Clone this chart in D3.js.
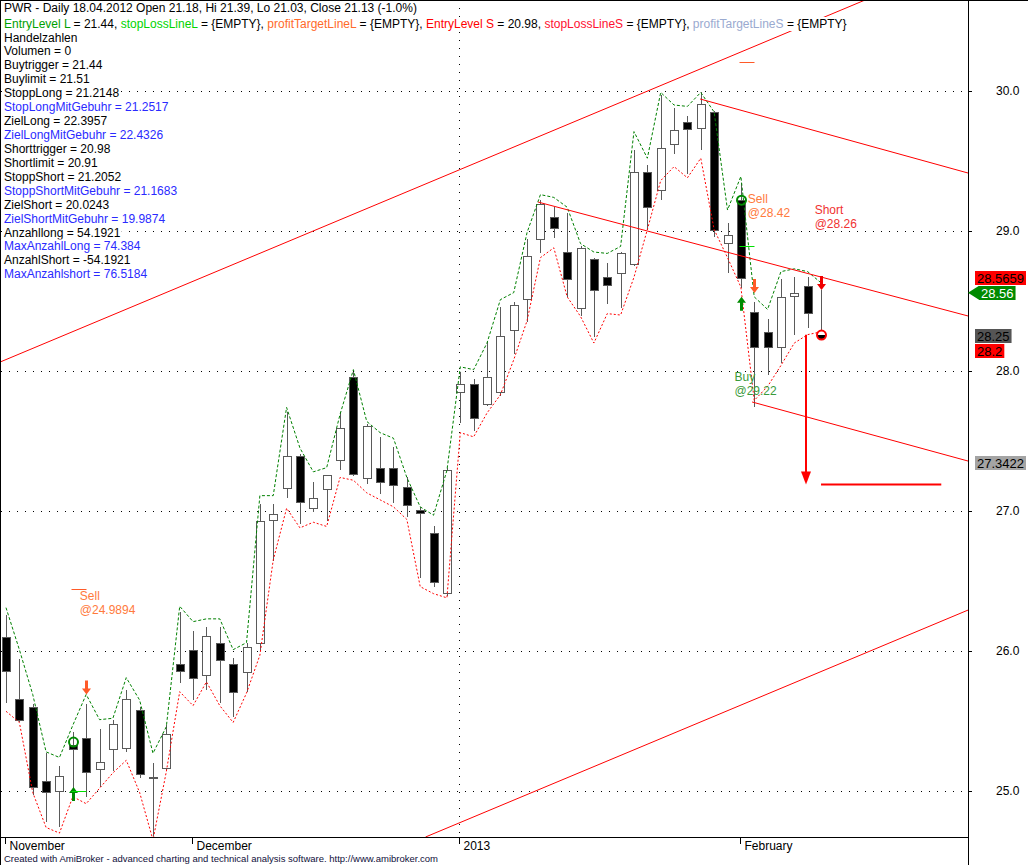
<!DOCTYPE html>
<html>
<head>
<meta charset="utf-8">
<title>PWR - Daily</title>
<script src="https://cdn.jsdelivr.net/npm/d3@7"></script>
<style>
  body { margin: 0; background: #fff; }
  svg { display: block; font-family: "Liberation Sans", Arial, sans-serif; }
  text { white-space: pre; }
</style>
</head>
<body>
<div id="chart"></div>
<script>
// trading days shown (Nov 12 2012 .. Feb 11 2013)
const dates = [
  "2012-11-12","2012-11-13","2012-11-14","2012-11-15","2012-11-16","2012-11-19","2012-11-20","2012-11-21","2012-11-23","2012-11-26",
  "2012-11-27","2012-11-28","2012-11-29","2012-11-30","2012-12-03","2012-12-04","2012-12-05","2012-12-06","2012-12-07","2012-12-10",
  "2012-12-11","2012-12-12","2012-12-13","2012-12-14","2012-12-17","2012-12-18","2012-12-19","2012-12-20","2012-12-21","2012-12-24",
  "2012-12-26","2012-12-27","2012-12-28","2012-12-31","2013-01-02","2013-01-03","2013-01-04","2013-01-07","2013-01-08","2013-01-09",
  "2013-01-10","2013-01-11","2013-01-14","2013-01-15","2013-01-16","2013-01-17","2013-01-18","2013-01-22","2013-01-23","2013-01-24",
  "2013-01-25","2013-01-28","2013-01-29","2013-01-30","2013-01-31","2013-02-01","2013-02-04","2013-02-05","2013-02-06","2013-02-07",
  "2013-02-08","2013-02-11"
];

const open = [
  26.10, 25.66, 25.60, 25.07, 25.00, 25.33, 25.38, 25.16, 25.30, 25.31,
  25.58, 25.10, 25.17, 25.91, 26.01, 25.83, 26.06, 25.91, 25.85, 26.06,
  26.94, 27.16, 27.39, 27.02, 27.16, 27.36, 27.96, 27.24, 27.31, 27.31,
  27.17, 27.01, 26.84, 26.41, 27.85, 27.91, 27.77, 27.85, 28.29, 28.51,
  28.94, 29.10, 28.85, 28.45, 28.80, 28.67, 28.70, 28.76, 29.42, 29.29,
  29.62, 29.78, 29.74, 29.85, 28.91, 29.22, 28.42, 28.28, 28.17, 28.54,
  28.61, 28.26
];
const high = [
  26.26, 25.94, 25.62, 25.27, 25.18, 25.42, 25.62, 25.44, 25.51, 25.72,
  25.60, 25.20, 25.47, 26.28, 26.14, 26.17, 26.17, 25.95, 26.06, 27.05,
  27.05, 27.71, 27.41, 27.21, 27.26, 27.71, 27.99, 27.62, 27.53, 27.46,
  27.24, 27.03, 26.89, 27.31, 27.99, 27.94, 28.21, 28.46, 28.49, 28.94,
  29.22, 29.17, 29.13, 28.89, 28.81, 28.77, 28.85, 29.58, 29.47, 29.97,
  29.88, 29.82, 29.99, 29.86, 29.06, 29.34, 28.49, 28.37, 28.66, 28.67,
  28.67, 28.58
];
const low = [
  25.63, 25.49, 24.97, 24.78, 24.74, 24.99, 24.96, 25.03, 25.14, 25.28,
  25.09, 24.68, 25.14, 25.77, 25.65, 25.72, 25.63, 25.53, 25.71, 26.01,
  26.64, 27.09, 26.91, 26.99, 26.93, 27.29, 27.25, 27.19, 27.12, 27.06,
  26.96, 26.52, 26.46, 26.39, 27.63, 27.57, 27.75, 27.82, 28.12, 28.35,
  28.84, 28.95, 28.53, 28.39, 28.24, 28.48, 28.45, 28.75, 29.01, 29.22,
  29.55, 29.41, 29.58, 28.96, 28.70, 28.59, 27.74, 27.97, 28.06, 28.26,
  28.31, 28.24
];
const close = [
  25.86, 25.51, 25.03, 24.99, 25.11, 25.30, 25.14, 25.21, 25.48, 25.66,
  25.12, 25.10, 25.41, 25.86, 25.81, 26.11, 25.94, 25.71, 26.03, 26.93,
  26.98, 27.39, 27.06, 27.09, 27.26, 27.59, 27.27, 27.61, 27.21, 27.19,
  27.04, 26.99, 26.49, 27.29, 27.91, 27.67, 27.96, 28.25, 28.47, 28.82,
  29.19, 29.02, 28.66, 28.88, 28.58, 28.61, 28.84, 29.42, 29.17, 29.59,
  29.72, 29.73, 29.91, 29.01, 28.97, 28.66, 28.17, 28.17, 28.53, 28.56,
  28.42, 28.25
];

// green dashed band above the highs, red dotted band below the lows
const upperBand = [
  26.31, 26.01, 25.69, 25.28, 25.24, 25.47, 25.69, 25.51, 25.52, 25.81,
  25.65, 25.27, 25.46, 26.32, 26.21, 26.23, 26.23, 26.01, 26.06, 27.11,
  27.11, 27.74, 27.45, 27.28, 27.31, 27.69, 28.01, 27.64, 27.56, 27.52,
  27.24, 27.03, 26.97, 27.29, 28.03, 28.01, 28.20, 28.51, 28.56, 28.99,
  29.26, 29.24, 29.17, 28.91, 28.85, 28.84, 28.89, 29.71, 29.52, 29.99,
  29.90, 29.89, 29.99, 29.85, 29.15, 29.39, 28.53, 28.44, 28.71, 28.73,
  28.71, 28.63
];
const lowerBand = [
  25.57, 25.49, 24.99, 24.74, 24.70, 24.96, 24.91, 25.02, 25.13, 25.22,
  24.99, 24.65, 25.14, 25.71, 25.61, 25.78, 25.61, 25.49, 25.70, 25.97,
  26.65, 27.02, 26.88, 26.92, 26.89, 27.24, 27.22, 27.13, 27.08, 27.03,
  26.94, 26.46, 26.41, 26.38, 27.56, 27.53, 27.70, 27.83, 28.08, 28.36,
  28.81, 28.88, 28.53, 28.39, 28.20, 28.41, 28.40, 28.67, 29.01, 29.36,
  29.46, 29.38, 29.52, 29.01, 28.81, 28.60, 27.79, 27.89, 28.04, 28.20,
  28.26, 28.28
];

const priceTicks = [25, 26, 27, 28, 29, 30];

// hand drawn trend lines: [bar, price] -> [bar, price]
const trendStart = [[-0.45, 28.064], [31.40, 24.672], [51.95, 29.943], [39.82, 29.207], [55.84, 27.779]];
const trendEnd   = [[64.30, 30.650], [72.01, 26.293], [72.01, 29.414], [72.01, 28.393], [72.01, 27.357]];

// projected target
const targetFrom = [59.85, 28.26];
const targetTo = [59.85, 27.19];
const targetLineBars = [61, 70];
const targetLinePrice = 27.19;

// signal markers
const buyArrowBars = [5, 55], buyArrowTips = [25.03, 28.53];
const sellArrowBars = [6, 56], sellArrowTips = [25.69, 28.557];
const shortArrowBars = [61], shortArrowTips = [28.579];
const entryCircleBars = [5, 55], entryCircleLevels = [25.35, 29.22];
const exitCircleBars = [61], exitCircleLevels = [28.257];
const stopMarkBars = [5, 55], stopMarkLevels = [25.0, 28.89];
const targetMarkBars = [5, 55], targetMarkLevels = [26.44, 30.21];

// signal texts
const signalBars = [5, 55, 60, 54];
const signalNames = ["Sell", "Sell", "Short", "Buy"];
const signalPrices = ["@24.9894", "@28.42", "@28.26", "@29.22"];
const signalLevels = [26.39, 29.23, 29.15, 27.96];
const signalColors = ["#ff7a3c", "#ff7a3c", "#f03232", "#3a9a3a"];

// price labels on the right axis (placement priority order)
const axisLabelValues = [28.56, 28.25, 28.5659, 28.2, 27.3422];
const axisLabelFills = ["#008a00", "#555555", "#ff0000", "#ff0000", "#a4a4a4"];
const axisLabelInk = ["#ffffff", "#000000", "#000000", "#000000", "#000000"];

// title / interpretation text
const titleText = "PWR - Daily 18.04.2012 Open 21.18, Hi 21.39, Lo 21.03, Close 21.13 (-1.0%)";
const levelParts = ["EntryLevel L", " = 21.44, ", "stopLossLineL", " = {EMPTY}, ", "profitTargetLineL", " = {EMPTY}, ",
                    "EntryLevel S", " = 20.98, ", "stopLossLineS", " = {EMPTY}, ", "profitTargetLineS", " = {EMPTY}"];
const levelColors = ["#00a000", "#000", "#00d400", "#000", "#ff6a2a", "#000",
                     "#ff0000", "#000", "#ff1030", "#000", "#9aaad0", "#000"];
const statLines = [
  "Handelzahlen", "Volumen = 0", "Buytrigger = 21.44", "Buylimit = 21.51", "StoppLong = 21.2148",
  "StopLongMitGebuhr = 21.2517", "ZielLong = 22.3957", "ZielLongMitGebuhr = 22.4326", "Shorttrigger = 20.98",
  "Shortlimit = 20.91", "StoppShort = 21.2052", "StoppShortMitGebuhr = 21.1683", "ZielShort = 20.0243",
  "ZielShortMitGebuhr = 19.9874", "Anzahllong = 54.1921", "MaxAnzahlLong = 74.384", "AnzahlShort = -54.1921",
  "MaxAnzahlshort = 76.5184"
];
const statColors = ["#000", "#000", "#000", "#000", "#000", "#2a2aff", "#000", "#2a2aff", "#000",
                    "#000", "#000", "#2a2aff", "#000", "#2a2aff", "#000", "#2a2aff", "#000", "#2a2aff"];

const footerText = "Created with AmiBroker - advanced charting and technical analysis software. http://www.amibroker.com";

// ---------------------------------------------------------------
const W = 1028, H = 865;
const plotW = 968, plotH = 837;

const svg = d3.select("#chart").append("svg")
    .attr("width", W)
    .attr("height", H);

svg.append("rect").attr("width", W).attr("height", H).attr("fill", "#fff");

svg.append("clipPath").attr("id", "plotclip")
  .append("rect").attr("x", 0).attr("y", 0).attr("width", plotW).attr("height", plotH);

const x = d3.scaleLinear().domain([-0.45, 72]).range([0, plotW]);
const y = d3.scaleLinear().domain([24.672, 30.65]).range([plotH, 0]);
const px = i => Math.round(x(i)) + 0.5;

const parseDate = d3.timeParse("%Y-%m-%d");
const days = dates.map(parseDate);

// grid
const grid = svg.append("g").attr("shape-rendering", "crispEdges");
grid.selectAll("line.hgrid").data(priceTicks).join("line")
    .attr("class", "hgrid")
    .attr("x1", 1).attr("x2", plotW)
    .attr("y1", d => Math.round(y(d)) + 0.5)
    .attr("y2", d => Math.round(y(d)) + 0.5)
    .attr("stroke", "#000")
    .attr("stroke-dasharray", "1,7");

// month / year ticks along the bottom
const dateTicks = [];
days.forEach((d, i) => {
  if (i === 0) dateTicks.push({ i, label: d3.timeFormat("%B")(d), year: false });
  else if (d.getMonth() !== days[i - 1].getMonth()) {
    const yr = d.getFullYear() !== days[i - 1].getFullYear();
    dateTicks.push({ i, label: yr ? d3.timeFormat("%Y")(d) : d3.timeFormat("%B")(d), year: yr });
  }
});
grid.selectAll("line.vgrid").data(dateTicks.filter(t => t.year)).join("line")
    .attr("class", "vgrid")
    .attr("x1", t => px(t.i) - 1).attr("x2", t => px(t.i) - 1)
    .attr("y1", 0).attr("y2", plotH)
    .attr("stroke", "#000")
    .attr("stroke-dasharray", "1,7");

// candles
const idx = d3.range(dates.length);
const candles = svg.append("g").attr("clip-path", "url(#plotclip)").attr("shape-rendering", "crispEdges");
candles.selectAll("line.wick").data(idx).join("line")
    .attr("class", "wick")
    .attr("x1", px).attr("x2", px)
    .attr("y1", i => y(high[i]))
    .attr("y2", i => y(low[i]))
    .attr("stroke", "#5a5a5a");
candles.selectAll("rect.body").data(idx).join("rect")
    .attr("class", "body")
    .attr("x", i => px(i) - 4)
    .attr("y", i => Math.round(y(Math.max(open[i], close[i]))) + 0.5)
    .attr("width", 8)
    .attr("height", i => Math.max(1, Math.round(Math.abs(y(open[i]) - y(close[i])))))
    .attr("fill", i => close[i] < open[i] ? "#000" : "#fff")
    .attr("stroke", "#5a5a5a");

// bands
const studies = svg.append("g").attr("clip-path", "url(#plotclip)");
const bandLine = arr => d3.line().x(i => x(i)).y(i => y(arr[i]))(idx);
studies.append("path").attr("d", bandLine(upperBand))
    .attr("fill", "none").attr("stroke", "#008000").attr("stroke-dasharray", "3,2");
studies.append("path").attr("d", bandLine(lowerBand))
    .attr("fill", "none").attr("stroke", "#ff0000").attr("stroke-dasharray", "2,2");

// trend lines
studies.selectAll("line.trend").data(trendStart).join("line")
    .attr("class", "trend")
    .attr("x1", d => x(d[0])).attr("y1", d => y(d[1]))
    .attr("x2", (d, k) => x(trendEnd[k][0])).attr("y2", (d, k) => y(trendEnd[k][1]))
    .attr("stroke", "#ff0000").attr("stroke-width", 1);

// target projection
studies.append("line")
    .attr("x1", x(targetLineBars[0])).attr("x2", x(targetLineBars[1]))
    .attr("y1", y(targetLinePrice)).attr("y2", y(targetLinePrice))
    .attr("stroke", "#ff0000").attr("stroke-width", 2);
{
  const tx = Math.round(x(targetFrom[0])), y0 = y(targetFrom[1]), y1 = y(targetTo[1]);
  studies.append("line").attr("x1", tx).attr("x2", tx).attr("y1", y0).attr("y2", y1 - 12)
      .attr("stroke", "#ff0000").attr("stroke-width", 2);
  studies.append("path")
      .attr("d", `M${tx - 5},${y1 - 13}L${tx + 5},${y1 - 13}L${tx},${y1}Z`)
      .attr("fill", "#ff0000");
}

// markers
const marks = svg.append("g");
function arrow(cx, tip, dir, color) {
  // dir 1: points down, -1: points up
  const p = d3.path();
  p.moveTo(cx, tip);
  p.lineTo(cx - 4.5, tip - dir * 6);
  p.lineTo(cx - 1.5, tip - dir * 6);
  p.lineTo(cx - 1.5, tip - dir * 14);
  p.lineTo(cx + 1.5, tip - dir * 14);
  p.lineTo(cx + 1.5, tip - dir * 6);
  p.lineTo(cx + 4.5, tip - dir * 6);
  p.closePath();
  marks.append("path").attr("d", p.toString()).attr("fill", color);
}
buyArrowBars.forEach((b, k) => arrow(px(b), y(buyArrowTips[k]), -1, "#008a00"));
sellArrowBars.forEach((b, k) => arrow(px(b), y(sellArrowTips[k]), 1, "#ff5a28"));
shortArrowBars.forEach((b, k) => arrow(px(b), y(shortArrowTips[k]), 1, "#f00000"));

stopMarkBars.forEach((b, k) => {
  marks.append("line")
      .attr("x1", px(b) - 2).attr("x2", px(b) + 13)
      .attr("y1", Math.round(y(stopMarkLevels[k])) + 0.5).attr("y2", Math.round(y(stopMarkLevels[k])) + 0.5)
      .attr("stroke", "#00e000");
});
targetMarkBars.forEach((b, k) => {
  marks.append("line")
      .attr("x1", px(b) - 2).attr("x2", px(b) + 13)
      .attr("y1", Math.round(y(targetMarkLevels[k])) + 0.5).attr("y2", Math.round(y(targetMarkLevels[k])) + 0.5)
      .attr("stroke", "#ff5a28");
});
entryCircleBars.forEach((b, k) => {
  marks.append("circle").attr("cx", px(b)).attr("cy", y(entryCircleLevels[k])).attr("r", 4.5)
      .attr("fill", "none").attr("stroke", "#008a00").attr("stroke-width", 2);
});
exitCircleBars.forEach((b, k) => {
  const cx = px(b), cy = y(exitCircleLevels[k]);
  marks.append("circle").attr("cx", cx).attr("cy", cy).attr("r", 4.5).attr("fill", "#fff");
  marks.append("path").attr("d", `M${cx - 4.5},${cy}A4.5,4.5 0 0 0 ${cx + 4.5},${cy}Z`).attr("fill", "#000");
  marks.append("circle").attr("cx", cx).attr("cy", cy).attr("r", 4.5)
      .attr("fill", "none").attr("stroke", "#ff0000").attr("stroke-width", 2);
});

// signal texts
signalBars.forEach((b, k) => {
  const t = marks.append("text").attr("x", x(b) + 7).attr("y", y(signalLevels[k]) + 4)
      .attr("font-size", 12).attr("fill", signalColors[k]);
  t.append("tspan").text(signalNames[k]);
  t.append("tspan").attr("x", x(b) + 7).attr("dy", 14).text(signalPrices[k]);
});

// axes frame
const frame = svg.append("g").attr("shape-rendering", "crispEdges");
frame.append("line").attr("x1", 0).attr("x2", W).attr("y1", 0.5).attr("y2", 0.5).attr("stroke", "#000");
frame.append("line").attr("x1", 0.5).attr("x2", 0.5).attr("y1", 0).attr("y2", H).attr("stroke", "#000");
frame.append("line").attr("x1", plotW + 0.5).attr("x2", plotW + 0.5).attr("y1", 0).attr("y2", H).attr("stroke", "#000");
frame.append("line").attr("x1", 0).attr("x2", plotW).attr("y1", plotH + 0.5).attr("y2", plotH + 0.5).attr("stroke", "#000");

// right price axis
const yAxis = d3.axisRight(y).tickValues(priceTicks).tickFormat(d3.format(".1f")).tickSize(4).tickPadding(24);
const yg = svg.append("g").attr("transform", `translate(${plotW},0)`).call(yAxis);
yg.select(".domain").remove();
yg.selectAll("text").attr("font-family", "Liberation Sans, Arial, sans-serif").attr("font-size", 12).attr("fill", "#000");
yg.selectAll("line").attr("stroke", "#000").attr("shape-rendering", "crispEdges");

// bottom date axis
const xg = svg.append("g");
dateTicks.forEach(t => {
  xg.append("line").attr("x1", px(t.i) - 1).attr("x2", px(t.i) - 1).attr("y1", plotH).attr("y2", plotH + 7)
      .attr("stroke", "#000").attr("shape-rendering", "crispEdges");
  xg.append("text").attr("x", px(t.i) + 3).attr("y", plotH + 13).attr("font-size", 12).attr("fill", "#000").text(t.label);
});

// right axis value labels
{
  const placed = [];
  const boxH = 14;
  axisLabelValues.forEach((v, k) => {
    let cy = y(v);
    placed.forEach(p => {
      if (Math.abs(cy - p.cy) < boxH + 1) cy = v > p.v ? p.cy - boxH - 1 : p.cy + boxH + 1;
    });
    placed.push({ v, cy });
    const g = svg.append("g");
    const bx = k === 0 ? 979 : 975;
    const t = g.append("text").attr("x", bx + 2).attr("y", cy + 5).attr("font-size", 13)
        .attr("fill", axisLabelInk[k]).text(String(v));
    const w = t.node().getComputedTextLength();
    g.insert("rect", "text").attr("x", bx).attr("y", Math.round(cy - boxH / 2)).attr("width", w + 4).attr("height", boxH)
        .attr("fill", axisLabelFills[k]);
    if (k === 0) {
      g.insert("path", "text").attr("d", `M${plotW},${cy}L${bx},${cy - 7}L${bx},${cy + 7}Z`).attr("fill", axisLabelFills[k]);
    }
  });
}

// title and interpretation text (opaque background)
const info = svg.append("g");
function infoLine(yb, parts, colors) {
  const t = info.append("text").attr("x", 4).attr("y", yb).attr("font-size", 12);
  parts.forEach((p, k) => t.append("tspan").attr("fill", colors[k]).text(p));
  const bb = t.node().getBBox();
  info.insert("rect", () => t.node()).attr("x", bb.x - 1).attr("y", bb.y).attr("width", bb.width + 2)
      .attr("height", bb.height).attr("fill", "#fff");
}
infoLine(12, [titleText], ["#000"]);
infoLine(28, levelParts, levelColors);
statLines.forEach((s, k) => infoLine(41.5 + k * 13.93, [s], [statColors[k]]));

svg.append("text").attr("x", 4).attr("y", 862).attr("font-size", 9.5).attr("fill", "#10103a").text(footerText);
</script>
</body>
</html>
